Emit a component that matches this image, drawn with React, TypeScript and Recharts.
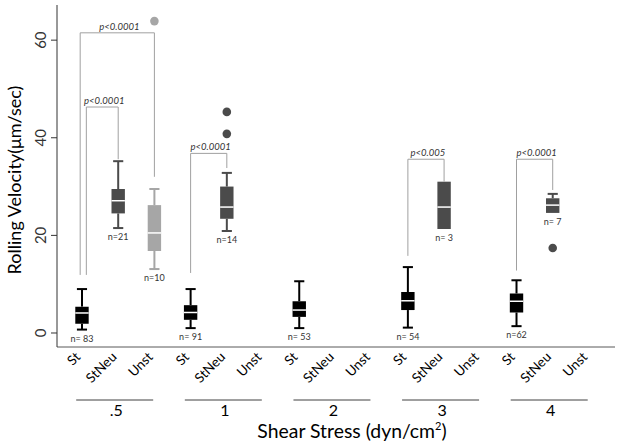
import React from "react";
import { ComposedChart, XAxis, YAxis, Scatter, ReferenceArea, ReferenceLine } from "recharts";

const slotNames = [
  "St", "StNeu", "Unst",
  "St", "StNeu", "Unst",
  "St", "StNeu", "Unst",
  "St", "StNeu", "Unst",
  "St", "StNeu", "Unst",
];
const slotTicks = slotNames.map((_, i) => i);
const groupNames = [".5", "1", "2", "3", "4"];
const groupTicks = [1, 4, 7, 10, 13];
const yTicks = [0, 20, 40, 60];

// one entry per box: slot, whisker low, q1, median, q3, whisker high, n
const boxSlot = [0, 1, 2, 3, 4, 6, 9, 10, 12, 13];
const boxLow = [0.7, 21.5, 13.1, 1.0, 20.9, 1.0, 1.1, 21.3, 1.4, 24.6];
const boxQ1 = [1.9, 24.5, 16.8, 2.7, 23.4, 3.3, 4.7, 21.3, 4.2, 24.6];
const boxMedian = [4.1, 27.1, 20.5, 4.2, 25.8, 4.7, 6.6, 25.8, 6.5, 26.2];
const boxQ3 = [5.4, 29.5, 26.2, 5.7, 30.0, 6.5, 8.4, 31.0, 8.1, 27.6];
const boxHigh = [9.0, 35.2, 29.5, 9.0, 32.8, 10.6, 13.5, 31.0, 10.8, 28.5];
const boxN = ["n= 83", "n=21", "n=10", "n= 91", "n=14", "n= 53", "n= 54", "n= 3", "n=62", "n= 7"];

const outlierSlot = [2, 4, 4, 13];
const outlierValue = [63.9, 45.3, 40.8, 17.4];

// significance brackets
const bracketLeft = [-0.05, 0.12, 3, 9, 12];
const bracketRight = [2, 1, 4, 10, 13];
const bracketTop = [61.5, 46.3, 36.8, 35.6, 35.6];
const bracketLeftEnd = [11.9, 11.9, 12.3, 15.8, 12.8];
const bracketRightEnd = [32.0, 35.6, 33.8, 31.0, 29.3];
const bracketText = ["p<0.0001", "p<0.0001", "p<0.0001", "p<0.005", "p<0.0001"];

const COLORS = ["#000000", "#4b4b4b", "#a6a6a6"]; // St, StNeu, Unst
const FONT = "Lato, 'Open Sans', sans-serif";
const BOX_HALF = 0.185;
const CAP_HALF = 0.14;
const BRACKET = "#a0a0a0";

const outlierData = outlierSlot.map((s, i) => ({ x: s, y: outlierValue[i], c: COLORS[s % 3] }));
const nData = boxSlot.map((s, i) => ({ x: s, y: boxLow[i], label: boxN[i] }));
const pData = bracketText.map((t, i) => ({
  x: (bracketLeft[i] + bracketRight[i]) / 2,
  y: bracketTop[i],
  label: t,
}));

function GroupTick(props: any) {
  const x = Number(props.x);
  const y = Number(props.y);
  const i = groupTicks.indexOf(props.payload.value);
  return (
    <g>
      <line x1={x - 42} x2={x + 35} y1={y + 8} y2={y + 8} stroke="#404040" strokeWidth={1} />
      <text x={x - 2} y={y + 24} textAnchor="middle" fontSize={16} fontFamily={FONT} fill="#000">
        {groupNames[i]}
      </text>
    </g>
  );
}

export default function App() {
  return (
    <div style={{ position: "absolute", left: 0, top: 0, background: "#fff" }}>
      <ComposedChart width={621} height={447} margin={{ top: 5, right: 6, left: 0, bottom: 0 }}>
        <XAxis
          dataKey="x"
          type="number"
          domain={[-0.69, 14.72]}
          allowDataOverflow
          ticks={slotTicks}
          interval={0}
          height={45}
          tickLine={false}
          tickSize={0}
          tickMargin={4}
          angle={-45}
          textAnchor="end"
          tickFormatter={(v: number) => slotNames[v]}
          tick={{ fontSize: 13.5, fontFamily: FONT, fill: "#000", dx: -7.5 }}
          axisLine={{ stroke: "#595959" }}
        />
        <XAxis
          xAxisId="grp"
          dataKey="x"
          type="number"
          domain={[-0.69, 14.72]}
          allowDataOverflow
          ticks={groupTicks}
          interval={0}
          height={55}
          axisLine={false}
          tickLine={false}
          tickSize={0}
          tickMargin={0}
          tick={<GroupTick />}
          label={{
            content: ({ viewBox }: any) => (
              <text x={352} y={viewBox.y + 46} textAnchor="middle" fontSize={19.4} fontFamily={FONT} fill="#000">
                Shear Stress (dyn/cm<tspan fontSize={11} dy={-8}>2</tspan>
                <tspan dy={8}>)</tspan>
              </text>
            ),
          }}
        />
        <YAxis
          dataKey="y"
          type="number"
          domain={[-2.87, 67.2]}
          allowDataOverflow
          ticks={yTicks}
          width={57}
          tickSize={6}
          tickMargin={10}
          angle={-90}
          textAnchor="middle"
          tick={{ fontSize: 15, fontFamily: FONT, fill: "#333" }}
          axisLine={{ stroke: "#333" }}
          tickLine={{ stroke: "#333" }}
          label={{
            content: () => {
              const cx = 21;
              const cy = 180;
              return (
                <text x={cx} y={cy} transform={`rotate(-90 ${cx} ${cy})`} textAnchor="middle" fontSize={18} fontFamily={FONT} fill="#000">
                  Rolling Velocity(μm/sec)
                </text>
              );
            },
          }}
        />

        {bracketText.map((_, i) => (
          <ReferenceLine
            key={`bl${i}`}
            segment={[{ x: bracketLeft[i], y: bracketLeftEnd[i] }, { x: bracketLeft[i], y: bracketTop[i] }]}
            stroke={BRACKET}
            strokeWidth={1}
          />
        ))}
        {bracketText.map((_, i) => (
          <ReferenceLine
            key={`bt${i}`}
            segment={[{ x: bracketLeft[i], y: bracketTop[i] }, { x: bracketRight[i], y: bracketTop[i] }]}
            stroke={BRACKET}
            strokeWidth={1}
          />
        ))}
        {bracketText.map((_, i) => (
          <ReferenceLine
            key={`br${i}`}
            segment={[{ x: bracketRight[i], y: bracketTop[i] }, { x: bracketRight[i], y: bracketRightEnd[i] }]}
            stroke={BRACKET}
            strokeWidth={1}
          />
        ))}

        {boxSlot.map((s, i) =>
          boxLow[i] < boxQ1[i] ? (
            <ReferenceLine
              key={`wl${i}`}
              segment={[{ x: s, y: boxLow[i] }, { x: s, y: boxQ1[i] }]}
              stroke={COLORS[s % 3]}
              strokeWidth={2}
            />
          ) : null
        )}
        {boxSlot.map((s, i) =>
          boxHigh[i] > boxQ3[i] ? (
            <ReferenceLine
              key={`wh${i}`}
              segment={[{ x: s, y: boxQ3[i] }, { x: s, y: boxHigh[i] }]}
              stroke={COLORS[s % 3]}
              strokeWidth={2}
            />
          ) : null
        )}
        {boxSlot.map((s, i) =>
          boxLow[i] < boxQ1[i] ? (
            <ReferenceLine
              key={`cl${i}`}
              segment={[{ x: s - CAP_HALF, y: boxLow[i] }, { x: s + CAP_HALF, y: boxLow[i] }]}
              stroke={COLORS[s % 3]}
              strokeWidth={2}
            />
          ) : null
        )}
        {boxSlot.map((s, i) =>
          boxHigh[i] > boxQ3[i] ? (
            <ReferenceLine
              key={`ch${i}`}
              segment={[{ x: s - CAP_HALF, y: boxHigh[i] }, { x: s + CAP_HALF, y: boxHigh[i] }]}
              stroke={COLORS[s % 3]}
              strokeWidth={2}
            />
          ) : null
        )}
        {boxSlot.map((s, i) => (
          <ReferenceArea
            key={`box${i}`}
            x1={s - BOX_HALF}
            x2={s + BOX_HALF}
            y1={boxQ1[i]}
            y2={boxQ3[i]}
            fill={COLORS[s % 3]}
            fillOpacity={1}
            stroke="none"
          />
        ))}
        {boxSlot.map((s, i) => (
          <ReferenceLine
            key={`md${i}`}
            segment={[{ x: s - BOX_HALF, y: boxMedian[i] }, { x: s + BOX_HALF, y: boxMedian[i] }]}
            stroke="#ffffff"
            strokeWidth={1.5}
          />
        ))}

        <Scatter
          data={outlierData}
          isAnimationActive={false}
          shape={(p: any) => <circle cx={p.cx} cy={p.cy} r={4.3} fill={p.payload.c} />}
        />
        <Scatter
          data={nData}
          isAnimationActive={false}
          shape={(p: any) => (
            <text x={p.cx} y={p.cy + 12} textAnchor="middle" fontSize={9} fontFamily={FONT} fill="#333">
              {p.payload.label}
            </text>
          )}
        />
        <Scatter
          data={pData}
          isAnimationActive={false}
          shape={(p: any) => (
            <text x={p.cx + 2} y={p.cy - 3} textAnchor="middle" fontSize={9.5} fontStyle="italic" fontFamily={FONT} fill="#333">
              {p.payload.label}
            </text>
          )}
        />
      </ComposedChart>
    </div>
  );
}
